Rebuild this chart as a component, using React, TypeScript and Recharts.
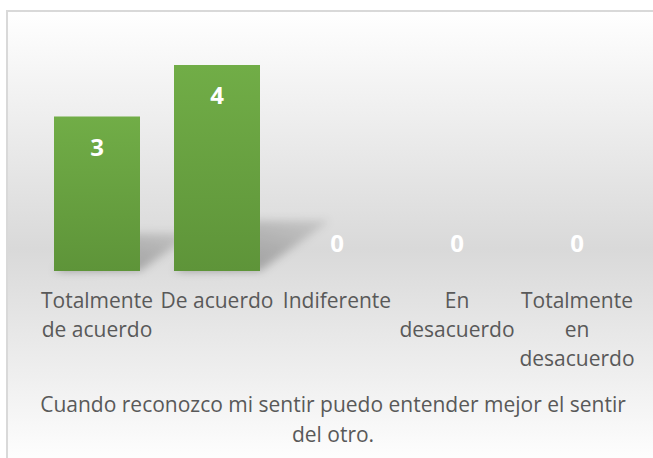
import React from "react";
import { BarChart, Bar, XAxis, YAxis, LabelList } from "recharts";

const categories = [
  "Totalmente de acuerdo",
  "De acuerdo",
  "Indiferente",
  "En desacuerdo",
  "Totalmente en desacuerdo",
];
const tickLines = [
  ["Totalmente", "de acuerdo"],
  ["De acuerdo"],
  ["Indiferente"],
  ["En", "desacuerdo"],
  ["Totalmente", "en", "desacuerdo"],
];
const values = [3, 4, 0, 0, 0];
const titleLines = [
  "Cuando reconozco mi sentir puedo entender mejor el sentir",
  "del otro.",
];

const data = categories.map((name, i) => ({ name, value: values[i] }));

const FONT = '"Open Sans", sans-serif';
const TEXT = "#595959";

function CategoryTick(props: any) {
  const { x, y, payload } = props;
  const lines = tickLines[categories.indexOf(payload.value)] || [payload.value];
  return (
    <text x={x} y={y + 37} textAnchor="middle" fill={TEXT} fontFamily={FONT} fontSize={21}>
      {lines.map((l, i) => (
        <tspan key={i} x={x} dy={i === 0 ? 0 : 29}>
          {l}
        </tspan>
      ))}
    </text>
  );
}

// bar with a soft perspective shadow thrown up and to the right
function ShadowBar(props: any) {
  const { x, y, width, height } = props;
  if (!height || height <= 0) return <g />;
  const base = y + height;
  const dx = height * 0.34;
  const dy = height * 0.245;
  const pts = `${x},${base} ${x + width},${base} ${x + width + dx},${base - dy} ${x + dx},${base - dy}`;
  return (
    <g>
      <polygon points={pts} fill="url(#shadowFill)" filter="url(#shadowBlur)" />
      <rect x={x} y={y} width={width} height={height} fill="url(#barFill)" />
    </g>
  );
}

function ValueLabel(props: any) {
  const { x, y, width, value } = props;
  const ty = value > 0 ? y + 39 : y - 19;
  return (
    <text
      x={x + width / 2}
      y={ty}
      textAnchor="middle"
      fill="#ffffff"
      fontFamily={FONT}
      fontWeight={700}
      fontSize={24}
    >
      {value}
    </text>
  );
}

export default function App() {
  return (
    <div
      style={{
        position: "absolute",
        left: 0,
        top: 0,
        width: 653,
        height: 458,
        overflow: "hidden",
        background: "#ffffff",
      }}
    >
      <div
        style={{
          position: "absolute",
          left: 6,
          top: 10,
          width: 680,
          height: 460,
          boxSizing: "border-box",
          border: "2px solid #d9d9d9",
          background: "linear-gradient(#ffffff 0%, #d9d9d9 52%, #ffffff 100%)",
        }}
      />
      <div style={{ position: "absolute", left: 0, top: 0 }}>
        <BarChart
          width={653}
          height={458}
          data={data}
          margin={{ top: 65, right: 16, left: 37, bottom: 0 }}
        >
          <defs>
            <linearGradient id="barFill" x1="0" y1="0" x2="0" y2="1">
              <stop offset="0%" stopColor="#71ad47" />
              <stop offset="100%" stopColor="#5e9439" />
            </linearGradient>
            <linearGradient id="shadowFill" x1="0" y1="1" x2="1" y2="0">
              <stop offset="0%" stopColor="#000" stopOpacity={0.32} />
              <stop offset="100%" stopColor="#000" stopOpacity={0.1} />
            </linearGradient>
            <filter id="shadowBlur" x="-50%" y="-50%" width="200%" height="200%">
              <feGaussianBlur stdDeviation="4" />
            </filter>
          </defs>
          <XAxis
            dataKey="name"
            height={187}
            axisLine={false}
            tickLine={false}
            tickSize={0}
            tickMargin={0}
            interval={0}
            tick={<CategoryTick />}
          />
          <YAxis hide domain={[0, 4]} />
          <Bar dataKey="value" barSize={86} shape={<ShadowBar />} isAnimationActive={false}>
            <LabelList dataKey="value" content={<ValueLabel />} />
          </Bar>
          <text textAnchor="middle" fill={TEXT} fontFamily={FONT} fontSize={21}>
            {titleLines.map((l, i) => (
              <tspan key={i} x={333} y={412 + i * 30}>
                {l}
              </tspan>
            ))}
          </text>
        </BarChart>
      </div>
    </div>
  );
}
